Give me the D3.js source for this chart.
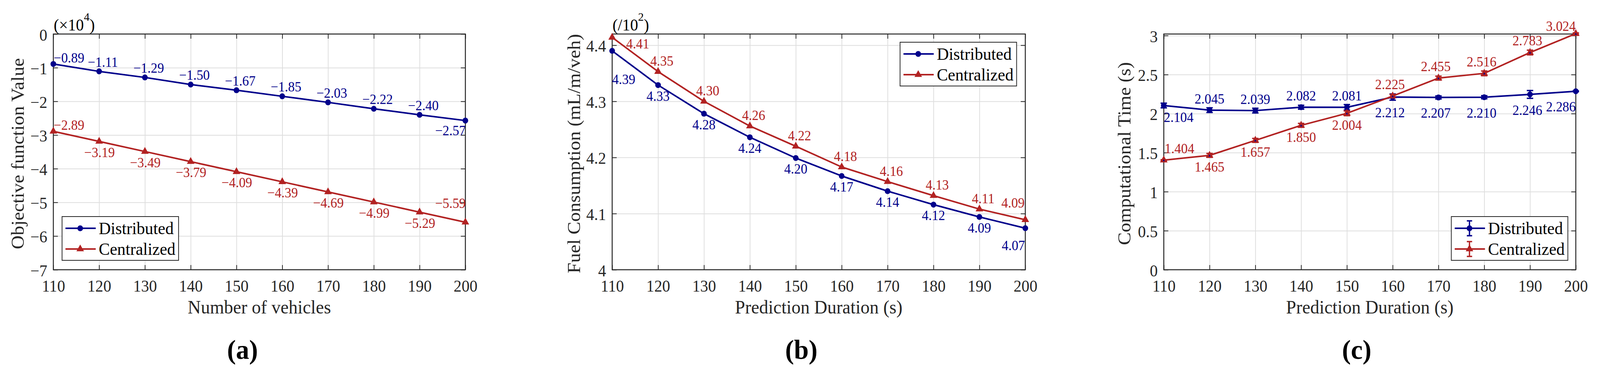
<!DOCTYPE html>
<html><head><meta charset="utf-8">
<script src="https://cdn.jsdelivr.net/npm/d3@7"></script>
<style>
html,body{margin:0;padding:0;overflow:hidden;background:#fff;width:100%;height:100%}
#chart{display:block;width:100vw;height:100vh}
</style>
</head><body>
<svg id="chart" viewBox="0 0 4229 967" preserveAspectRatio="none" xmlns="http://www.w3.org/2000/svg"></svg>
<script>
// ---------------- DATA ----------------
const xValues = [110,120,130,140,150,160,170,180,190,200];
const xTicks = [110,120,130,140,150,160,170,180,190,200];
const seriesNames = ["Distributed","Centralized"];

// (a) Objective function value (x10^4)
const objDistributed = [-0.89,-1.11,-1.29,-1.50,-1.67,-1.85,-2.03,-2.22,-2.40,-2.57];
const objCentralized = [-2.89,-3.19,-3.49,-3.79,-4.09,-4.39,-4.69,-4.99,-5.29,-5.59];
const objTicks = [0,-1,-2,-3,-4,-5,-6,-7];

// (b) Fuel consumption (/10^2)
const fuelDistributed = [4.390,4.329,4.278,4.236,4.199,4.167,4.140,4.116,4.094,4.074];
const fuelCentralized = [4.414,4.353,4.300,4.256,4.220,4.183,4.157,4.132,4.108,4.089];
const fuelTicks = [4,4.1,4.2,4.3,4.4];

// (c) Computational time (s) with error bars
const timeDistributed = [2.104,2.045,2.039,2.082,2.081,2.212,2.207,2.210,2.246,2.286];
const timeDistributedErr = [0.03,0.03,0.03,0.025,0.035,0.04,0.02,0.02,0.05,0.005];
const timeCentralized = [1.404,1.465,1.657,1.850,2.004,2.225,2.455,2.516,2.783,3.024];
const timeCentralizedErr = [0.005,0.025,0.025,0.025,0.03,0.02,0.025,0.03,0.03,0.01];
const timeTicks = [0,0.5,1,1.5,2,2.5,3];

// ---------------- STYLE ----------------
const BLUE = "#00008B", RED = "#B22222", AX = "#262626", GRID = "#dedede";
const FONT = "'Liberation Serif','Times New Roman',Times,serif";
const svg = d3.select("#chart");
svg.append("rect").attr("width",4229).attr("height",967).attr("fill","#fff");

const numFmt = d => String(+d.toFixed(2));

// label placements: [anchor, dx, dy]
const placeA_D = i => i===0?["start",1,-4]:i===9?["end",1,38]:["middle",10,-12];
const placeA_C = i => i===0?["start",1,-4]:i===9?["end",1,-37]:["middle",1,40];
const placeB_D = i => i===0?["start",0,85]:i===9?["end",-1,56]:["middle",0,40];
const placeB_C = i => i===0?["start",37,28]:i===9?["end",-2,-31]:["middle",10,-15];
const placeC_D = i => i===0?["start",0,42]:i===9?["end",0,51]:i<5?["middle",0,-17]:["middle",-7,52];
const placeC_C = i => i===0?["start",2,-18]:i===9?["end",0,-7]:i<5?["middle",0,42]:["middle",-7,-18];

const panels = [
  {left:141,right:1230,top:87,bottom:690,yDomain:[-7,0],yTicks:objTicks,
   series:[{v:objDistributed,c:BLUE,m:"circle",fmt:d3.format(".2f"),place:placeA_D},
           {v:objCentralized,c:RED,m:"triangle",fmt:d3.format(".2f"),place:placeA_C}],
   xLabel:"Number of vehicles",yLabel:"Objective function Value",yLabelX:63,
   mult:["(\u00d710","4",")"],legend:[164,554],sub:"(a)",subX:641},
  {left:1618,right:2710,top:87,bottom:690,yDomain:[4,4.42],yTicks:fuelTicks,
   series:[{v:fuelDistributed,c:BLUE,m:"circle",fmt:d3.format(".2f"),place:placeB_D},
           {v:fuelCentralized,c:RED,m:"triangle",fmt:d3.format(".2f"),place:placeB_C}],
   xLabel:"Prediction Duration (s)",yLabel:"Fuel Consumption (mL/m/veh)",yLabelX:1533,
   mult:["(/10","2",")"],legend:[2379,108],sub:"(b)",subX:2118},
  {left:3076,right:4165,top:87,bottom:690,yDomain:[0,3.02],yTicks:timeTicks,
   series:[{v:timeDistributed,e:timeDistributedErr,c:BLUE,m:"circle",fmt:d3.format(".3f"),place:placeC_D},
           {v:timeCentralized,e:timeCentralizedErr,c:RED,m:"triangle",inner:true,fmt:d3.format(".3f"),place:placeC_C}],
   xLabel:"Prediction Duration (s)",yLabel:"Computational Time (s)",yLabelX:2988,
   mult:null,legend:[3836,554],errLegend:true,sub:"(c)",subX:3586}
];

function drawMarker(g, type, cx, cy, color, inner) {
  if (type === "circle") {
    g.append("circle").attr("cx",cx).attr("cy",cy).attr("r",7.5).attr("fill",color);
  } else {
    g.append("path").attr("d", d3.symbol(d3.symbolTriangle, 175)())
      .attr("transform",`translate(${cx},${cy})`).attr("fill",color);
    if (inner) g.append("path").attr("d", d3.symbol(d3.symbolTriangle, 14)())
      .attr("transform",`translate(${cx},${cy+1})`).attr("fill",BLUE);
  }
}

panels.forEach(p => {
  const g = svg.append("g");
  const x = d3.scaleLinear().domain([110,200]).range([p.left,p.right]);
  const y = d3.scaleLinear().domain(p.yDomain).range([p.bottom,p.top]);
  const H = p.bottom - p.top, W = p.right - p.left;

  // grid
  g.append("g").attr("transform",`translate(0,${p.bottom})`)
    .call(d3.axisBottom(x).tickValues(xTicks).tickSize(-H).tickFormat(""))
    .call(s => { s.select(".domain").remove(); s.selectAll("line").attr("stroke",GRID).attr("stroke-width",2); });
  g.append("g").attr("transform",`translate(${p.left},0)`)
    .call(d3.axisLeft(y).tickValues(p.yTicks).tickSize(-W).tickFormat(""))
    .call(s => { s.select(".domain").remove(); s.selectAll("line").attr("stroke",GRID).attr("stroke-width",2); });

  // ticks on four sides
  const styleAxis = s => { s.select(".domain").remove(); s.selectAll("line").attr("stroke",AX).attr("stroke-width",2);
    s.selectAll("text").attr("fill",AX).style("font-family",FONT).style("font-size","42px"); };
  g.append("g").attr("transform",`translate(0,${p.bottom})`)
    .call(d3.axisBottom(x).tickValues(xTicks).tickSize(-12).tickSizeOuter(0))
    .call(styleAxis).call(s => s.selectAll("text").attr("y",56).attr("dy",null));
  g.append("g").attr("transform",`translate(0,${p.top})`)
    .call(d3.axisTop(x).tickValues(xTicks).tickSize(-12).tickSizeOuter(0).tickFormat("")).call(styleAxis);
  g.append("g").attr("transform",`translate(${p.left},0)`)
    .call(d3.axisLeft(y).tickValues(p.yTicks).tickSize(-12).tickSizeOuter(0).tickFormat(d => p.yDomain[1] <= 0 ? d3.format("d")(d) : numFmt(d)))
    .call(styleAxis).call(s => s.selectAll("text").attr("x",-16).attr("dy",null).attr("y",16));
  g.append("g").attr("transform",`translate(${p.right},0)`)
    .call(d3.axisRight(y).tickValues(p.yTicks).tickSize(-12).tickSizeOuter(0).tickFormat("")).call(styleAxis);

  // box
  g.append("rect").attr("x",p.left).attr("y",p.top).attr("width",W).attr("height",H)
    .attr("fill","none").attr("stroke",AX).attr("stroke-width",2.5);

  // series
  p.series.forEach(s => {
    const line = d3.line().x((d,i) => x(xValues[i])).y(d => y(d));
    g.append("path").datum(s.v).attr("d",line).attr("fill","none").attr("stroke",s.c)
      .attr("stroke-width",4).attr("stroke-linejoin","round");
    s.v.forEach((v,i) => {
      const cx = x(xValues[i]), cy = y(v);
      if (s.e) {
        const y1 = y(v - s.e[i]), y2 = y(v + s.e[i]);
        g.append("line").attr("x1",cx).attr("x2",cx).attr("y1",y1).attr("y2",y2).attr("stroke",s.c).attr("stroke-width",3.5);
        [y1,y2].forEach(yy => g.append("line").attr("x1",cx-8.5).attr("x2",cx+8.5).attr("y1",yy).attr("y2",yy)
          .attr("stroke",s.c).attr("stroke-width",3.5));
      }
      drawMarker(g, s.m, cx, cy, s.c, s.inner);
    });
  });
  // data labels
  p.series.forEach(s => {
    s.v.forEach((v,i) => {
      const [anc,dx,dy] = s.place(i);
      g.append("text").attr("x",x(xValues[i])+dx).attr("y",y(v)+dy).attr("text-anchor",anc)
        .attr("fill",s.c).style("font-family",FONT).style("font-size","35px").text(s.fmt(v));
    });
  });

  // axis labels
  g.append("text").attr("x",(p.left+p.right)/2).attr("y",802).attr("text-anchor","middle")
    .attr("fill",AX).style("font-family",FONT).style("font-size","48px").text(p.xLabel);
  g.append("text").attr("transform",`translate(${p.yLabelX},393) rotate(-90)`).attr("text-anchor","middle")
    .attr("fill",AX).style("font-family",FONT).style("font-size","49px").text(p.yLabel);

  // multiplier
  if (p.mult) {
    const t = g.append("text").attr("x",p.left+1).attr("y",78).attr("fill","#000")
      .style("font-family",FONT).style("font-size","42px");
    t.append("tspan").text(p.mult[0]);
    t.append("tspan").attr("dy",-25).style("font-size","30px").text(p.mult[1]);
    t.append("tspan").attr("dy",25).text(p.mult[2]);
  }

  // legend
  const [lx,ly] = p.legend;
  const lg = g.append("g");
  lg.append("rect").attr("x",lx).attr("y",ly).attr("width",308).attr("height",112)
    .attr("fill","#fff").attr("stroke",AX).attr("stroke-width",2);
  p.series.forEach((s,k) => {
    const ry = ly + (k===0?30:83);
    lg.append("line").attr("x1",lx+9).attr("x2",lx+89).attr("y1",ry).attr("y2",ry).attr("stroke",s.c).attr("stroke-width",4);
    if (p.errLegend) {
      lg.append("line").attr("x1",lx+48).attr("x2",lx+48).attr("y1",ry-19).attr("y2",ry+19).attr("stroke",s.c).attr("stroke-width",3.5);
      [ry-19,ry+19].forEach(yy => lg.append("line").attr("x1",lx+41).attr("x2",lx+55).attr("y1",yy).attr("y2",yy).attr("stroke",s.c).attr("stroke-width",3.5));
    }
    drawMarker(lg, s.m, lx+48, ry, s.c, false);
    lg.append("text").attr("x",lx+97).attr("y",ry+15).attr("fill","#000")
      .style("font-family",FONT).style("font-size","44px").text(seriesNames[k]);
  });

  // sub caption
  g.append("text").attr("x",p.subX).attr("y",918).attr("text-anchor","middle").attr("fill","#000")
    .style("font-family",FONT).style("font-size","70px").style("font-weight","bold").text(p.sub);
});
</script>
</body></html>
